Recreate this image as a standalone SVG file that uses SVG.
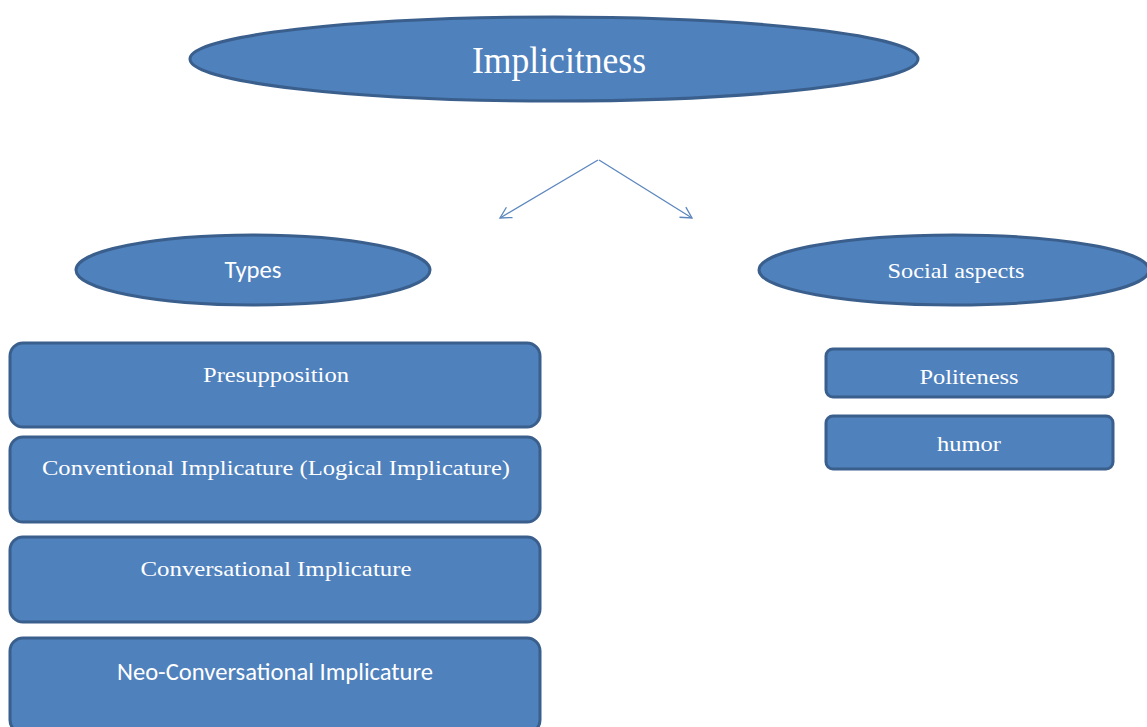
<svg xmlns="http://www.w3.org/2000/svg" width="1147" height="727" viewBox="0 0 1147 727">
<defs>
<style>
.n{fill:#4F81BD;stroke:#3A5F8C;stroke-width:3}
.s{font-family:"Liberation Serif",serif;fill:#fff;text-anchor:middle;font-size:22px}
.a{font-family:Carlito,"Liberation Sans",sans-serif;fill:#fff;text-anchor:middle;font-size:24px}
.c{stroke:#5B86BE;stroke-width:1.3;fill:none}
</style>
<marker id="ah" markerWidth="14" markerHeight="14" refX="12" refY="7" orient="auto" markerUnits="userSpaceOnUse">
<path d="M1,1 L12,7 L1,13" fill="none" stroke="#5B86BE" stroke-width="1.3"/>
</marker>
</defs>
<rect width="1147" height="727" fill="#fff"/>
<g id="connectors">
<line class="c" x1="598" y1="160" x2="500" y2="218" marker-end="url(#ah)"/>
<line class="c" x1="599" y1="160" x2="692" y2="218" marker-end="url(#ah)"/>
</g>
<g id="implicitness">
<ellipse class="n" cx="554" cy="59" rx="364" ry="42"/>
<text class="s" x="559" y="73" style="font-size:37px" textLength="174" lengthAdjust="spacingAndGlyphs">Implicitness</text>
</g>
<g id="types">
<ellipse class="n" cx="253" cy="270" rx="177" ry="35"/>
<text class="a" x="253" y="278" textLength="57" lengthAdjust="spacingAndGlyphs">Types</text>
</g>
<g id="social">
<ellipse class="n" cx="954" cy="270" rx="195" ry="35"/>
<text class="s" x="956" y="278" textLength="137" lengthAdjust="spacingAndGlyphs">Social aspects</text>
</g>
<g id="presupposition">
<rect class="n" x="10" y="343" width="530" height="84" rx="13"/>
<text class="s" x="276" y="382" textLength="146" lengthAdjust="spacingAndGlyphs">Presupposition</text>
</g>
<g id="conventional">
<rect class="n" x="10" y="437" width="530" height="85" rx="13"/>
<text class="s" x="276" y="475" textLength="468" lengthAdjust="spacingAndGlyphs">Conventional Implicature (Logical Implicature)</text>
</g>
<g id="conversational">
<rect class="n" x="10" y="537" width="530" height="85" rx="13"/>
<text class="s" x="276" y="576" textLength="271" lengthAdjust="spacingAndGlyphs">Conversational Implicature</text>
</g>
<g id="neo">
<rect class="n" x="10" y="638" width="530" height="95" rx="13"/>
<text class="a" x="275" y="680" textLength="316" lengthAdjust="spacingAndGlyphs">Neo-Conversational Implicature</text>
</g>
<g id="politeness">
<rect class="n" x="826" y="349" width="287" height="48" rx="7"/>
<text class="s" x="969" y="384" textLength="99" lengthAdjust="spacingAndGlyphs">Politeness</text>
</g>
<g id="humor">
<rect class="n" x="826" y="416" width="287" height="53" rx="7"/>
<text class="s" x="969" y="451" textLength="64" lengthAdjust="spacingAndGlyphs">humor</text>
</g>
</svg>
